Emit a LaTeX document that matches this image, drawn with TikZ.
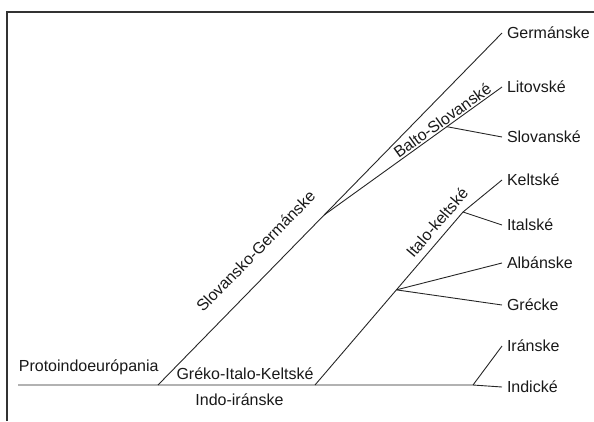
\documentclass[tikz,border=0pt]{standalone}
\usepackage{fontspec}
\setmainfont{Liberation Sans}
\usetikzlibrary{calc}
\begin{document}
\begin{tikzpicture}[x=1pt,y=-1pt,
  branch/.style={draw=black!85, line width=0.9pt},
  frameline/.style={draw=black!80, line width=1.4pt},
  txt/.style={inner sep=0pt, text=black!90, font=\fontsize{16}{18}\selectfont},
  leaf/.style={txt, anchor=west, outer sep=5pt, text height=11.5pt, text depth=0pt},
  lbl/.style={txt, sloped, anchor=base}]
\useasboundingbox (0,0) rectangle (594,421);
% frame
\draw[frameline] (7,421) -- (7,12) -- (594,12);
% leaves
\node[leaf] (germ) at (502,33) {Germánske};
\node[leaf] (lit)  at (502,87) {Litovské};
\node[leaf] (slov) at (502,137) {Slovanské};
\node[leaf] (kel)  at (502,180) {Keltské};
\node[leaf] (ital) at (502,225) {Italské};
\node[leaf] (alb)  at (502,263) {Albánske};
\node[leaf] (grec) at (502,305) {Grécke};
\node[leaf] (iran) at (502,346) {Iránske};
\node[leaf] (ind)  at (502,387) {Indické};
% junctions
\coordinate (root) at (18,385);
\coordinate (sg) at (158,385);
\coordinate (gik) at (315,385);
\coordinate (ii) at (473,385);
\coordinate (bs) at ($(sg)!0.483!(germ.west)$);
\coordinate (sl) at ($(bs)!0.69!(lit.west)$);
\coordinate (ik) at (463,212);
\coordinate (ga) at ($(gik)!0.55!(ik)$);
% horizontal labels
\node[txt, anchor=base] (proto) at (88.7,371) {Protoindoeurópania};
\node[txt, anchor=base] (grekolbl) at (245,379) {Gréko-Italo-Keltské};
\node[txt, anchor=base] (indoir) at (239.5,405) {Indo-iránske};
% branches
\draw[branch] (root) -- (sg) -- (gik) -- (ii) -- (ind.west);
\draw[branch] (sg) -- node[lbl, pos=0.69, yshift=18pt] {Slovansko-Germánske} (bs) -- (germ.west);
\draw[branch] (bs) -- node[lbl, pos=0.69, yshift=2pt] {Balto-Slovanské} (lit.west);
\draw[branch] (sl) -- (slov.west);
\draw[branch] (gik) -- (ga) -- node[lbl, pos=0.755, yshift=7pt] {Italo-keltské} (ik);
\draw[branch] (ik) -- (kel.west);
\draw[branch] (ik) -- (ital.west);
\draw[branch] (ga) -- (alb.west);
\draw[branch] (ga) -- (grec.west);
\draw[branch] (ii) -- (iran.west);
\end{tikzpicture}
\end{document}
